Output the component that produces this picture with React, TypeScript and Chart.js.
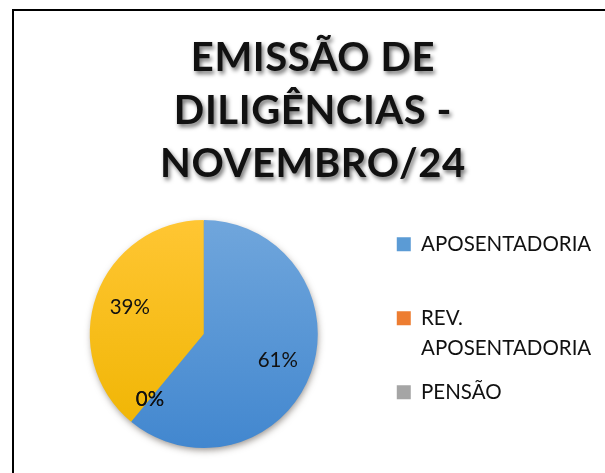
import { useEffect, useRef } from 'react';
import { Chart, registerables } from 'chart.js';

Chart.register(...registerables);

const titleLines = ['EMISSÃO DE', 'DILIGÊNCIAS -', 'NOVEMBRO/24'];
const categories = ['APOSENTADORIA', 'REV. APOSENTADORIA', 'PENSÃO', 'REV. PENSÃO'];
const values = [61, 0, 0, 39];
const legendShown = [true, true, true, false];
const colorTop = ['#70a6dc', '#f4964f', '#b4b4b4', '#ffc633'];
const colorBottom = ['#4287cf', '#e86f1f', '#979797', '#efb400'];
const colorSwatch = ['#5b9bd5', '#ed7d31', '#a5a5a5', '#ffc000'];

const FONT = 'Lato, "Open Sans", sans-serif';
const LEGEND_SIZE = 20.5;
const LEGEND_LINE = 30;
const LEGEND_MAX_TEXT = 180;

function wrapLabel(ctx: CanvasRenderingContext2D, text: string, pad: boolean): string | string[] {
  ctx.save();
  ctx.font = `${LEGEND_SIZE}px ${FONT}`;
  const words = text.split(' ');
  const lines: string[] = [];
  let cur = '';
  for (const w of words) {
    const test = cur ? cur + ' ' + w : w;
    if (cur && ctx.measureText(test).width > LEGEND_MAX_TEXT) {
      lines.push(cur);
      cur = w;
    } else {
      cur = test;
    }
  }
  if (cur) lines.push(cur);
  ctx.restore();
  if (!pad && lines.length === 1) return lines[0];
  while (lines.length < 2) lines.push('');
  return lines;
}

const titleStyle = {
  id: 'titleStyle',
  beforeDraw(chart: any) {
    const tb = chart.titleBlock;
    if (tb && !tb.__styled) {
      const orig = tb.draw.bind(tb);
      tb.draw = (area: any) => {
        const ctx = chart.ctx as CanvasRenderingContext2D;
        ctx.save();
        (ctx as any).letterSpacing = '0.6px';
        ctx.shadowColor = 'rgba(0,0,0,0.55)';
        ctx.shadowBlur = 4;
        ctx.shadowOffsetX = 2;
        ctx.shadowOffsetY = 2.5;
        orig(area);
        ctx.restore();
      };
      tb.__styled = true;
    }
  },
};

const pieShadow = {
  id: 'pieShadow',
  beforeDatasetsDraw(chart: any) {
    const arc = chart.getDatasetMeta(0).data[0];
    if (!arc) return;
    const { x, y, outerRadius } = arc.getProps(['x', 'y', 'outerRadius'], true);
    const ctx = chart.ctx as CanvasRenderingContext2D;
    ctx.save();
    ctx.shadowColor = 'rgba(60,50,40,0.55)';
    ctx.shadowBlur = 7;
    ctx.shadowOffsetX = 1;
    ctx.shadowOffsetY = 3;
    ctx.fillStyle = '#4a8bd0';
    ctx.beginPath();
    ctx.arc(x, y, outerRadius - 1, 0, Math.PI * 2);
    ctx.fill();
    ctx.restore();
  },
};

const pctLabels = {
  id: 'pctLabels',
  afterDatasetsDraw(chart: any) {
    const meta = chart.getDatasetMeta(0);
    const data = chart.data.datasets[0].data as number[];
    const total = data.reduce((a, b) => a + b, 0);
    const ctx = chart.ctx as CanvasRenderingContext2D;
    ctx.save();
    ctx.font = `20.5px ${FONT}`;
    ctx.fillStyle = '#111';
    ctx.textAlign = 'center';
    ctx.textBaseline = 'middle';
    meta.data.forEach((arc: any, i: number) => {
      const { x, y, startAngle, endAngle, outerRadius } = arc.getProps(
        ['x', 'y', 'startAngle', 'endAngle', 'outerRadius'],
        true
      );
      const mid = (startAngle + endAngle) / 2;
      const r = outerRadius * (data[i] === 0 ? 0.74 : 0.69);
      const txt = Math.round((data[i] / total) * 100) + '%';
      ctx.fillText(txt, x + Math.cos(mid) * r, y + Math.sin(mid) * r);
    });
    ctx.restore();
  },
};

function pieFill(context: any) {
  const i = context.dataIndex ?? 0;
  const area = context.chart.chartArea;
  if (!area) return colorSwatch[i];
  const g = context.chart.ctx.createLinearGradient(0, area.top, 0, area.bottom);
  g.addColorStop(0, colorTop[i]);
  g.addColorStop(1, colorBottom[i]);
  return g;
}

export default function App() {
  const ref = useRef<HTMLCanvasElement>(null);
  useEffect(() => {
    document.documentElement.style.overflow = 'hidden';
    document.body.style.overflow = 'hidden';
    const canvas = ref.current!;
    const lastShown = legendShown.lastIndexOf(true);
    const chart = new Chart(canvas, {
      type: 'pie',
      data: {
        labels: categories,
        datasets: [
          {
            data: values,
            backgroundColor: pieFill as any,
            borderWidth: 0,
          },
        ],
      },
      plugins: [titleStyle, pieShadow, pctLabels],
      options: {
        responsive: false,
        animation: false,
        devicePixelRatio: 1,
        layout: { padding: { left: 11.75, right: 11.75, top: 0, bottom: 25 } },
        plugins: {
          tooltip: { enabled: false },
          title: {
            display: true,
            text: titleLines,
            color: '#111',
            font: { family: FONT, size: 40, weight: 'bold', lineHeight: 53 / 40 },
            padding: { top: 22, bottom: 29 },
          },
          legend: {
            position: 'right',
            fullSize: false,
            align: 'start',
            maxWidth: 219,
            labels: {
              color: '#111',
              font: { family: FONT, size: LEGEND_SIZE, lineHeight: LEGEND_LINE / LEGEND_SIZE },
              boxWidth: 14,
              boxHeight: 14,
              padding: 14,
              filter: (item: any) => legendShown[item.index],
              generateLabels: (ch: any) =>
                categories.map((c, i) => ({
                  text: wrapLabel(ch.ctx, c, i !== lastShown) as any,
                  fillStyle: colorSwatch[i],
                  strokeStyle: 'rgba(0,0,0,0)',
                  lineWidth: 0,
                  fontColor: '#111',
                  hidden: false,
                  index: i,
                })),
            },
          },
        },
      } as any,
    });
    return () => chart.destroy();
  }, []);
  return (
    <>
      <div
        style={{
          position: 'fixed',
          left: 12,
          top: 9,
          width: 700,
          height: 600,
          border: '2px solid #000',
          boxSizing: 'border-box',
        }}
      />
      <canvas
        ref={ref}
        width={600}
        height={463}
        style={{ position: 'fixed', left: 13, top: 10, width: 600, height: 463 }}
      />
    </>
  );
}
